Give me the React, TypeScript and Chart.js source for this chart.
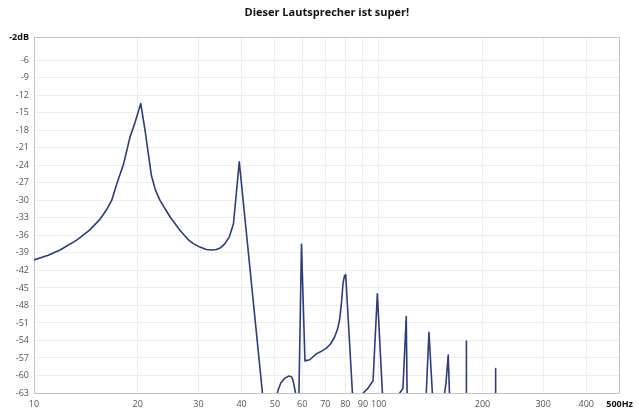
import { useEffect, useRef } from "react";
import { Chart, registerables } from "chart.js";

Chart.register(...registerables);

const chartTitle = "Dieser Lautsprecher ist super!";

const frequencyHz = [
  10, 11, 11.9, 13.3, 14.5, 15.5, 16.2, 16.8, 17.4, 18.2, 19.0, 19.6, 20.4, 21.0, 21.9, 22.5, 23.2, 24.8,
  26.5, 28.0, 29.0, 30.3, 31.6, 32.7, 33.8, 34.8, 35.8, 36.9, 37.9, 39.4, 46.0, 46.3, 50.5, 50.8, 51.3,
  52.0, 53.3, 54.9, 55.8, 56.4, 57.4, 57.6, 58.5, 58.7, 59.7, 61.1, 63.1, 65.9, 68.0, 70.5, 72.5, 74.5,
  76.0, 77.0, 78.0, 78.8, 79.5, 80.2, 83.9, 84.2, 89.8, 90.1, 93.0, 96.3, 99.1, 102.5, 102.8, 114.8, 115.1,
  117.6, 120.2, 120.9, 121.2, 137.1, 137.4, 139.9, 143.1, 143.4, 155.0, 155.3, 156.7, 159.1, 160.4, 160.7,
  179.3, 179.5, 179.6, 179.7, 179.9, 218.0, 218.2, 218.3, 218.4, 218.6, 500,
];

const levelDb = [
  -40.2, -39.4, -38.5, -36.8, -35.1, -33.3, -31.7, -30.0, -27.1, -23.7, -19.1, -16.8, -13.4, -18.0, -25.7,
  -28.2, -30.0, -32.8, -35.1, -36.7, -37.4, -38.0, -38.4, -38.5, -38.4, -38.1, -37.4, -36.2, -34.0, -23.4,
  -63, -80, -80, -63, -62.2, -61.3, -60.5, -60.1, -60.2, -60.8, -63, -80, -80, -63, -37.5, -57.5, -57.3,
  -56.3, -55.9, -55.3, -54.6, -53.4, -52.0, -50.5, -47.5, -44.2, -43.0, -42.7, -63, -80, -80, -63, -62.2,
  -60.9, -46.0, -63, -80, -80, -63, -62.2, -49.9, -63, -80, -80, -63, -52.6, -63, -80, -80, -63, -61.3,
  -56.5, -63, -80, -80, -63, -54.1, -63, -80, -80, -63, -58.8, -63, -80, -80,
];

const xTickValues = [10, 20, 30, 40, 50, 60, 70, 80, 90, 100, 200, 300, 400, 500];
const yTickValues = [-2, -6, -9, -12, -15, -18, -21, -24, -27, -30, -33, -36, -39, -42, -45, -48, -51, -54, -57, -60, -63];

const FONT = "'Open Sans', 'Noto Sans', sans-serif";

export default function App() {
  const canvasRef = useRef<HTMLCanvasElement | null>(null);

  useEffect(() => {
    const canvas = canvasRef.current;
    if (!canvas) return;

    const framePlugin = {
      id: "frameAndTitle",
      beforeDatasetsDraw(chart: any) {
        const { ctx, chartArea } = chart;
        ctx.save();
        ctx.strokeStyle = "#c4c4c4";
        ctx.lineWidth = 1;
        ctx.strokeRect(
          Math.round(chartArea.left) + 0.5,
          Math.round(chartArea.top) + 0.5,
          Math.round(chartArea.right - chartArea.left) - 1,
          Math.round(chartArea.bottom - chartArea.top)
        );
        ctx.restore();
      },
      afterDraw(chart: any) {
        const { ctx, chartArea } = chart;
        ctx.save();
        ctx.font = `bold 11px ${FONT}`;
        ctx.fillStyle = "#111";
        ctx.textAlign = "center";
        ctx.textBaseline = "middle";
        ctx.fillText(chartTitle, (chartArea.left + chartArea.right) / 2, 13);
        ctx.restore();
      },
    };

    const chart = new Chart(canvas, {
      type: "line",
      data: {
        datasets: [
          {
            data: frequencyHz.map((f, i) => ({ x: f, y: levelDb[i] })),
            borderColor: "#2c3c7e",
            borderWidth: 1.6,
            pointRadius: 0,
            tension: 0,
            borderJoinStyle: "round",
            fill: false,
          },
        ],
      },
      options: {
        animation: false,
        responsive: false,
        maintainAspectRatio: false,
        layout: { padding: { top: 37, right: 19, left: 0, bottom: 0 } },
        plugins: {
          legend: { display: false },
          tooltip: { enabled: false },
          title: { display: false },
        },
        scales: {
          x: {
            type: "logarithmic",
            min: 10,
            max: 500,
            afterBuildTicks: (scale: any) => {
              scale.ticks = xTickValues.map((v) => ({ value: v }));
            },
            afterFit: (scale: any) => {
              scale.height = 17;
            },
            grid: { color: "#eeeeee", drawTicks: false },
            border: { display: false },
            ticks: {
              padding: 6,
              autoSkip: false,
              maxRotation: 0,
              callback: (v: any) => (v === 500 ? "500Hz" : String(v)),
              font: (ctx: any) => ({
                family: FONT,
                size: 9,
                weight: ctx.tick && ctx.tick.value === 500 ? "bold" : "normal",
              }),
              color: (ctx: any) => (ctx.tick && ctx.tick.value === 500 ? "#111" : "#555"),
            },
          },
          y: {
            type: "linear",
            min: -63,
            max: -2,
            afterBuildTicks: (scale: any) => {
              scale.ticks = yTickValues.map((v) => ({ value: v }));
            },
            afterFit: (scale: any) => {
              scale.width = 34;
            },
            grid: { color: "#eeeeee", drawTicks: false },
            border: { display: false },
            ticks: {
              padding: 5,
              autoSkip: false,
              callback: (v: any) => (v === -2 ? "-2dB" : String(v)),
              font: (ctx: any) => ({
                family: FONT,
                size: 9,
                weight: ctx.tick && ctx.tick.value === -2 ? "bold" : "normal",
              }),
              color: (ctx: any) => (ctx.tick && ctx.tick.value === -2 ? "#111" : "#555"),
            },
          },
        },
      },
      plugins: [framePlugin],
    } as any);

    return () => chart.destroy();
  }, []);

  return (
    <div style={{ position: "fixed", left: 0, top: 0, width: 639, height: 410, background: "#fff" }}>
      <canvas ref={canvasRef} width={639} height={410} style={{ display: "block", width: 639, height: 410 }} />
    </div>
  );
}
